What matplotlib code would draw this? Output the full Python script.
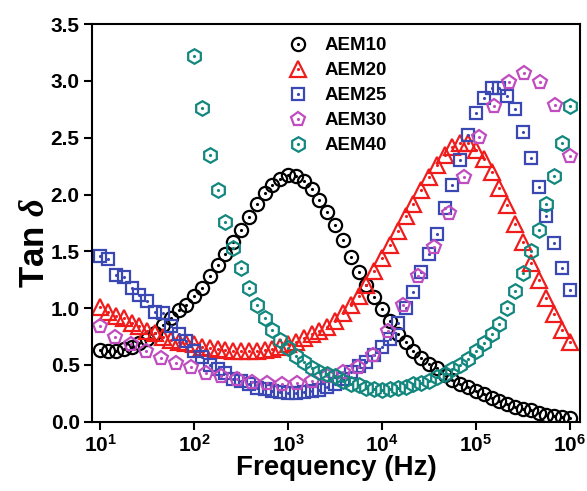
import numpy as np
import matplotlib.pyplot as plt

plt.rcParams['font.family'] = ['Liberation Sans', 'DejaVu Sans']
plt.rcParams['font.weight'] = 'bold'
plt.rcParams['mathtext.fontset'] = 'custom'
plt.rcParams['mathtext.rm'] = 'Liberation Sans:bold'
plt.rcParams['mathtext.bf'] = 'Liberation Sans:bold'
plt.rcParams['mathtext.it'] = 'Liberation Serif:italic:bold'

# Frequency sweep (Hz)
freq = np.logspace(1, 6, 61)
freq_30 = np.logspace(1, 6, 32)

# Tan delta values
aem10 = [0.63, 0.62, 0.62, 0.64, 0.66, 0.69, 0.73, 0.78, 0.85, 0.91,
         0.98, 1.03, 1.11, 1.18, 1.28, 1.38, 1.48, 1.58, 1.69, 1.80,
         1.92, 2.01, 2.08, 2.14, 2.17, 2.16, 2.12, 2.05, 1.95, 1.85,
         1.73, 1.60, 1.45, 1.32, 1.20, 1.10, 0.99, 0.89, 0.77, 0.70,
         0.62, 0.56, 0.51, 0.47, 0.41, 0.37, 0.33, 0.31, 0.27, 0.24,
         0.21, 0.18, 0.16, 0.13, 0.11, 0.10, 0.08, 0.06, 0.05, 0.045,
         0.035]
aem20 = [1.01, 0.97, 0.93, 0.91, 0.87, 0.84, 0.80, 0.78, 0.75, 0.72,
         0.70, 0.69, 0.68, 0.66, 0.65, 0.64, 0.63, 0.62, 0.62, 0.62,
         0.62, 0.63, 0.64, 0.66, 0.68, 0.70, 0.74, 0.77, 0.80, 0.83,
         0.89, 0.96, 1.03, 1.11, 1.20, 1.33, 1.44, 1.56, 1.68, 1.81,
         1.92, 2.04, 2.15, 2.26, 2.35, 2.42, 2.45, 2.45, 2.39, 2.31,
         2.20, 2.06, 1.91, 1.74, 1.58, 1.40, 1.25, 1.09, 0.95, 0.81,
         0.70]
aem25 = [1.46, 1.43, 1.29, 1.27, 1.18, 1.12, 1.06, 0.97, 0.96, 0.84,
         0.77, 0.71, 0.62, 0.57, 0.50, 0.46, 0.43, 0.38, 0.36, 0.33,
         0.30, 0.29, 0.27, 0.26, 0.255, 0.25, 0.26, 0.27, 0.28, 0.31,
         0.33, 0.38, 0.44, 0.49, 0.53, 0.59, 0.66, 0.73, 0.87, 1.00,
         1.14, 1.32, 1.48, 1.65, 1.88, 2.08, 2.30, 2.52, 2.72, 2.85,
         2.94, 2.94, 2.87, 2.75, 2.55, 2.32, 2.07, 1.81, 1.57, 1.35,
         1.16]
aem30 = [0.84, 0.75, 0.68, 0.62, 0.56, 0.52, 0.48, 0.43, 0.40, 0.38,
         0.35, 0.34, 0.33, 0.34, 0.36, 0.40, 0.44, 0.48, 0.59, 0.80,
         1.03, 1.28, 1.54, 1.84, 2.15, 2.51, 2.78, 2.99, 3.07, 2.99,
         2.79, 2.34]
aem40 = [3.22, 2.76, 2.35, 2.04, 1.76, 1.53, 1.35, 1.18, 1.03, 0.91,
         0.81, 0.72, 0.65, 0.58, 0.53, 0.47, 0.44, 0.42, 0.40, 0.36,
         0.33, 0.32, 0.30, 0.29, 0.28, 0.29, 0.30, 0.31, 0.33, 0.34,
         0.36, 0.39, 0.42, 0.46, 0.50, 0.55, 0.62, 0.69, 0.77, 0.86,
         1.00, 1.15, 1.31, 1.50, 1.69, 1.92, 2.16, 2.45, 2.78]

series = [
    ('AEM10', freq, aem10, 'o', 'black', 9.5),
    ('AEM20', freq, aem20, '^', '#f01c1c', 11),
    ('AEM25', freq, aem25, 's', '#3a48b4', 9),
    ('AEM30', freq_30, aem30, 'p', '#c04cc0', 10.5),
    ('AEM40', freq[-len(aem40):], aem40, 'h', '#12877e', 10.5),
]

fig = plt.figure(figsize=(5.87, 4.91), dpi=100)
ax = fig.add_axes([0.157, 0.141, 0.831, 0.810])

handles = []
for name, f, y, m, c, ms in series:
    h1, = ax.plot(f, y, linestyle='none', marker=m, ms=ms, mfc='none',
                  mec=c, mew=1.6)
    h2, = ax.plot(f, y, linestyle='none', marker='.', ms=2.5, color=c)
    handles.append((h1, h2))

ax.set_xscale('log')
ax.set_xlim(8.2, 1.28e6)
ax.set_ylim(0, 3.5)
ax.set_yticks(np.arange(0, 3.51, 0.5))
ax.set_yticklabels(['%.1f' % v for v in np.arange(0, 3.51, 0.5)])
ax.set_xticks([1e1, 1e2, 1e3, 1e4, 1e5, 1e6])
ax.set_xticklabels([r'$10^{%d}$' % k for k in range(1, 7)])
ax.minorticks_off()
ax.tick_params(direction='out', length=6, width=1.5, labelsize=15, pad=3)
for sp in ax.spines.values():
    sp.set_linewidth(1.5)

ax.set_xlabel('Frequency (Hz)', fontsize=20, fontweight='bold', labelpad=0)
ax.set_ylabel(r'Tan $\delta$', fontsize=25, fontweight='bold')
ax.yaxis.set_label_coords(-0.085, 0.45)

ax.legend(handles, [s[0] for s in series], loc='upper left',
          bbox_to_anchor=(0.365, 1.01), frameon=False,
          labelspacing=0.42, handletextpad=0.8, handlelength=1.2,
          prop={'weight': 'bold', 'size': 13.5})

fig.savefig('out.png', dpi=100)
